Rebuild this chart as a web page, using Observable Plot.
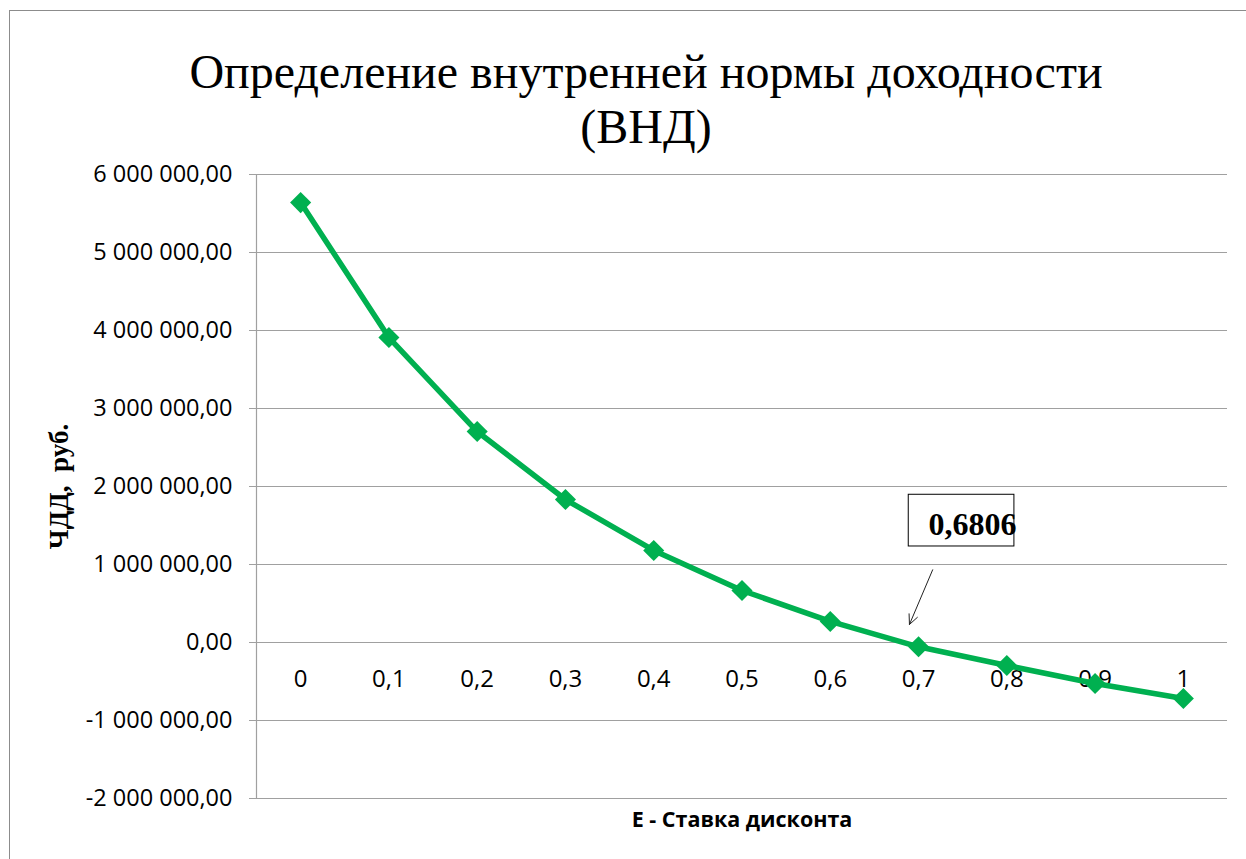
<!DOCTYPE html>
<html>
<head>
<meta charset="utf-8">
<script src="https://cdn.jsdelivr.net/npm/d3@7"></script>
<script src="https://cdn.jsdelivr.net/npm/@observablehq/plot@0.6"></script>
<style>
  html, body { margin: 0; padding: 0; background: #fff; }
  #wrap { position: relative; width: 1246px; height: 859px; overflow: hidden; background: #fff; }
  #title {
    width: 1292px; height: 140px; box-sizing: border-box; padding-top: 44px;
    text-align: center; font-family: "Liberation Serif", "Times New Roman", serif;
    font-size: 48px; line-height: 55px; color: #000; overflow: visible; white-space: nowrap;
  }
  #chart svg { display: block; }
  #border {
    position: absolute; left: 9px; top: 10px; width: 1400px; height: 1000px;
    border: 1px solid #8c8c8c; pointer-events: none; z-index: 5;
  }
</style>
</head>
<body>
<div id="wrap">
  <div id="title">Определение внутренней нормы доходности<br>(ВНД)</div>
  <div id="chart"></div>
  <div id="border"></div>
</div>
<script>
// ---- data ----
const rates = [0, 0.1, 0.2, 0.3, 0.4, 0.5, 0.6, 0.7, 0.8, 0.9, 1];
const rateLabels = ["0", "0,1", "0,2", "0,3", "0,4", "0,5", "0,6", "0,7", "0,8", "0,9", "1"];
const npv = [5640000, 3910000, 2705000, 1833000, 1180000, 667000, 270000, -55000, -295000, -526000, -718000];
const yTicks = [-2000000, -1000000, 0, 1000000, 2000000, 3000000, 4000000, 5000000, 6000000];
const irrLabel = "0,6806";
const yTitle = "ЧДД,  руб.";
const xTitle = "Е - Ставка дисконта";

// annotation (data coordinates)
const annBox = [{x1: 0.6889, x2: 0.8086, y1: 1231000, y2: 1894000}];
const annText = [{x: 0.7112, y: 1513000, text: irrLabel}];
const annArrow = [{x1: 0.716, y1: 932000, x2: 0.6897, y2: 231000}];

const rows = rates.map((r, i) => ({rate: r, npv: npv[i]}));
const xDomain = [-0.05, 1.05];
const grid = "#a0a0a0";
const green = "#00B050";

const fmt = d3.formatLocale({decimal: ",", thousands: "\u00a0", grouping: [3], currency: ["", ""], minus: "-"}).format(",.2f");

const chart = Plot.plot({
  width: 1246,
  height: 719,
  marginLeft: 256,
  marginRight: 19,
  marginTop: 34,
  marginBottom: 61,
  style: {fontFamily: "'Open Sans', sans-serif", fontSize: "23px", color: "#000", background: "#fff"},
  x: {domain: xDomain, axis: null},
  y: {domain: [-2000000, 6000000], axis: null, label: null},
  marks: [
    Plot.gridY(yTicks, {stroke: grid, strokeOpacity: 1, strokeWidth: 1.2}),
    Plot.ruleX([xDomain[0]], {stroke: grid, strokeWidth: 1.2}),
    Plot.axisY(yTicks, {anchor: "left", label: null, tickSize: 7, tickPadding: 17, tickFormat: fmt,
      stroke: grid, fill: "#000", fontSize: 23.5}),
    Plot.text(rates, {x: d => d, y: () => 0, text: (d, i) => rateLabels[i], dy: 37, fontSize: 24, fill: "#000", lineAnchor: "middle"}),
    Plot.text([yTitle], {frameAnchor: "left", rotate: -90, dx: -197, textAnchor: "middle", lineAnchor: "middle",
      fontFamily: "'Liberation Serif', serif", fontWeight: "bold", fontSize: 27, fill: "#000"}),
    Plot.text([xTitle], {frameAnchor: "bottom", dy: 21.5, textAnchor: "middle", lineAnchor: "middle",
      fontWeight: "bold", fontSize: 21.5, fill: "#000"}),
    Plot.line(rows, {x: "rate", y: "npv", stroke: green, strokeWidth: 5.5, strokeLinejoin: "round"}),
    Plot.dot(rows, {x: "rate", y: "npv", symbol: "diamond2", r: 9.5, fill: green, stroke: "none"}),
    Plot.rect(annBox, {x1: "x1", x2: "x2", y1: "y1", y2: "y2", fill: "none", stroke: "#000", strokeWidth: 1}),
    Plot.text(annText, {x: "x", y: "y", text: "text", textAnchor: "start", lineAnchor: "middle",
      fontFamily: "'Liberation Serif', serif", fontWeight: "bold", fontSize: 32, fill: "#000"}),
    Plot.arrow(annArrow, {x1: "x1", y1: "y1", x2: "x2", y2: "y2", stroke: "#222", strokeWidth: 1, headLength: 16, headAngle: 50})
  ]
});
document.getElementById("chart").appendChild(chart);
</script>
</body>
</html>
